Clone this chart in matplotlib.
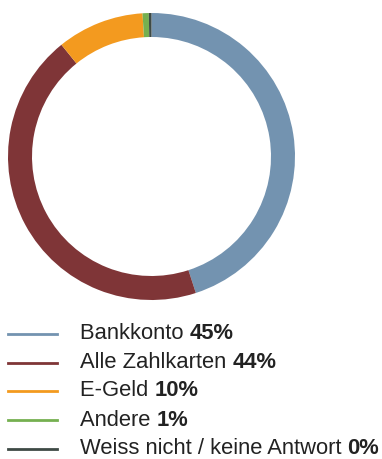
import matplotlib
matplotlib.use("Agg")
import matplotlib.pyplot as plt
from matplotlib.lines import Line2D

categories = ["Bankkonto", "Alle Zahlkarten", "E-Geld", "Andere", "Weiss nicht / keine Antwort"]
shares = [45.0, 44.2, 9.8, 0.7, 0.3]
colors = ["#7393B0", "#7F3537", "#F39A1F", "#75B050", "#3E4A45"]

W, H = 382, 459
fig = plt.figure(figsize=(W / 100, H / 100), dpi=100)

# donut: centre and radii in pixels
cx, cy, r_out, ring = 151.5, 156.5, 143.5, 24
box = 150
ax = fig.add_axes([(cx - box) / W, (H - cy - box) / H, 2 * box / W, 2 * box / H])
ax.pie(shares, colors=colors, startangle=90, counterclock=False,
       radius=r_out / box,
       wedgeprops=dict(width=ring / box, linewidth=0))
ax.set_xlim(-1, 1)
ax.set_ylim(-1, 1)
ax.set_aspect("equal")
ax.axis("off")

# legend rows
font = "Liberation Sans"
fs = 15.8
row_y = [333.5, 362.5, 391.0, 420.0, 449.0]
renderer = fig.canvas.get_renderer()
for name, val, col, y in zip(categories, shares, colors, row_y):
    fy = 1 - y / H
    fig.add_artist(Line2D([8 / W, 57 / W], [fy, fy], color=col, linewidth=2.0,
                          transform=fig.transFigure))
    t = fig.text(80 / W, fy, name + " ", fontsize=fs, family=font,
                 va="center", ha="left", color="#222222")
    bb = t.get_window_extent(renderer=renderer)
    fig.text(bb.x1 / W, fy, f"{round(val):.0f}%", fontsize=fs, family=font,
             fontweight="bold", va="center", ha="left", color="#222222")

fig.savefig("out.png", dpi=100)
